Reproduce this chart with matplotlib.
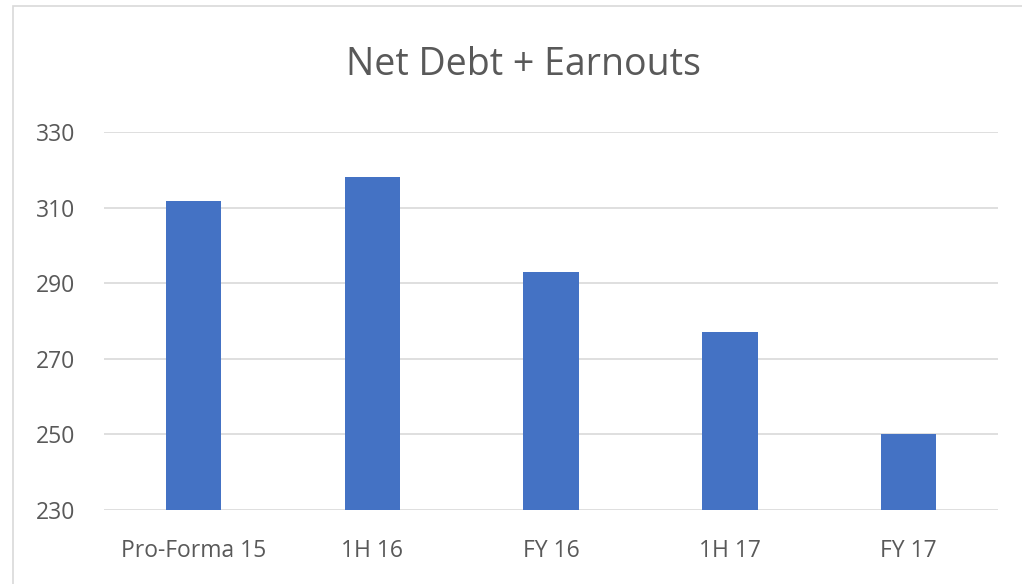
import matplotlib.pyplot as plt
from matplotlib.patches import Rectangle

# data
periods = ['Pro-Forma 15', '1H 16', 'FY 16', '1H 17', 'FY 17']
net_debt = [311.7, 318.1, 292.9, 277.1, 250.2]
y_ticks = [230, 250, 270, 290, 310, 330]

plt.rcParams['font.family'] = ['Open Sans', 'DejaVu Sans']

fig = plt.figure(figsize=(10.22, 5.84), dpi=100)
ax = fig.add_axes([0.1018, 0.1267, 0.8747, 0.6473])

# light border round the chart area
fig.patches.append(Rectangle((13 / 1022, -0.01), 1.0, 1 - 6 / 584 + 0.01,
                             transform=fig.transFigure, fill=False,
                             edgecolor='#D9D9D9', linewidth=1.2))

ax.bar(range(len(periods)), net_debt, width=0.31, color='#4472C4', zorder=3)

ax.set_xlim(-0.5, len(periods) - 0.5)
ax.set_ylim(230, 330)
ax.set_yticks(y_ticks)
ax.set_xticks(range(len(periods)))
ax.set_xticklabels(periods)

ax.yaxis.grid(True, color='#D9D9D9', linewidth=1.2, zorder=0)
for s in ax.spines.values():
    s.set_visible(False)
ax.tick_params(axis='both', length=0, labelsize=16.5, labelcolor='#595959')
ax.tick_params(axis='y', pad=21)
ax.tick_params(axis='x', pad=21)

fig.text(0.512, 0.889, 'Net Debt + Earnouts', ha='center', va='center',
         fontsize=27, color='#595959')

fig.savefig('out.png', dpi=100)
